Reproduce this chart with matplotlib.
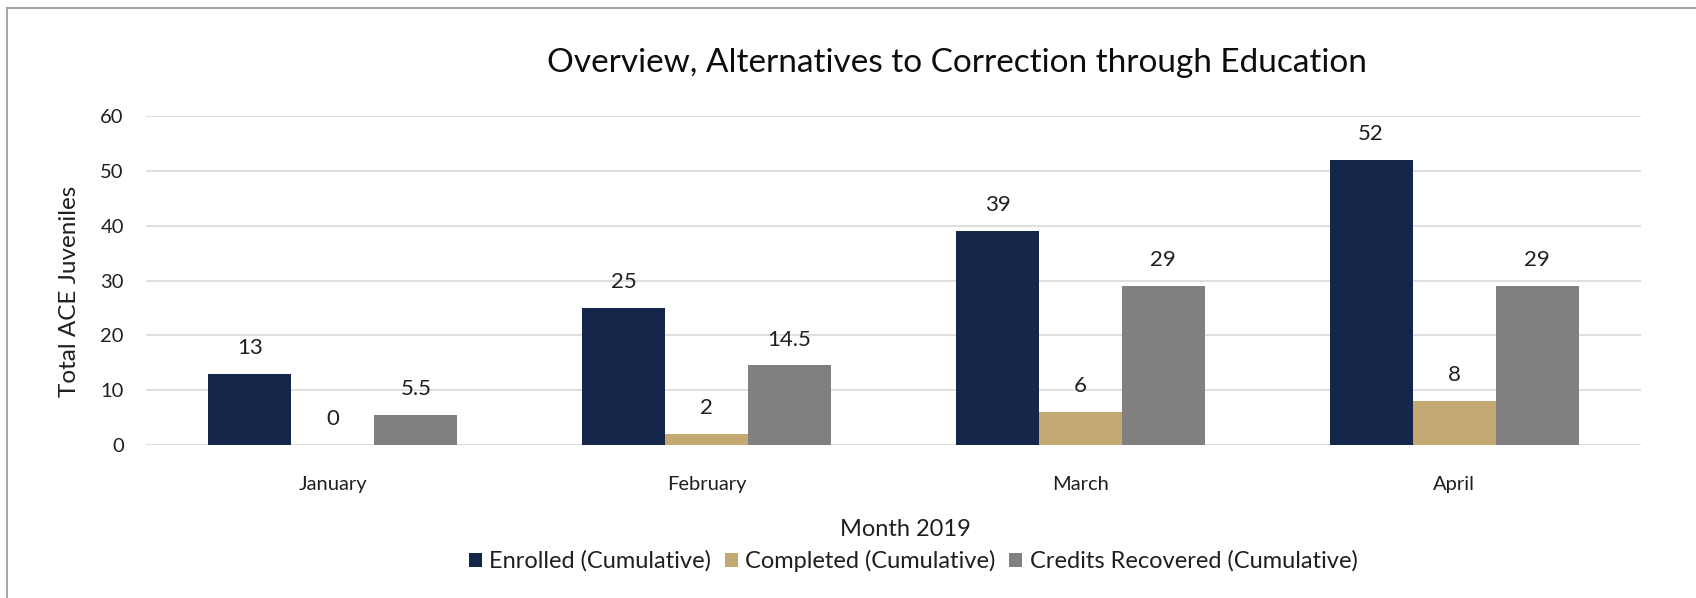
import matplotlib
matplotlib.use('Agg')
import matplotlib.pyplot as plt
import numpy as np
from matplotlib.patches import Rectangle

plt.rcParams['font.family'] = ['Lato', 'DejaVu Sans']

# data
months = ['January', 'February', 'March', 'April']
enrolled = [13, 25, 39, 52]
completed = [0, 2, 6, 8]
credits = [5.5, 14.5, 29, 29]
series_names = ['Enrolled (Cumulative)', 'Completed (Cumulative)',
                'Credits Recovered (Cumulative)']
colors = ['#14264a', '#c5a973', '#808080']

W, H = 1696, 598
fig = plt.figure(figsize=(W/100, H/100), dpi=100)
ax = fig.add_axes([146/W, 1-445/H, (1641-146)/W, (445-116)/H])

x = np.arange(len(months))
bw = 0.222
text_col = '#1f1f1f'
for i, (vals, name, c) in enumerate(zip([enrolled, completed, credits], series_names, colors)):
    xs = x + (i-1)*bw
    ax.bar(xs, vals, bw, color=c, label=name, zorder=3)
    for xi, v in zip(xs, vals):
        lab = '{:g}'.format(v)
        ax.annotate(lab, (xi, v), xytext=(0, 18.5), textcoords='offset points',
                    ha='center', va='center', fontsize=16, color=text_col)

ax.set_xlim(-0.5, 3.5)
ax.set_ylim(0, 60)
ax.set_yticks(range(0, 61, 10))
ax.set_xticks(x)
ax.set_xticklabels(months)
ax.yaxis.grid(True, color='#d9d9d9', lw=1.2, zorder=0)
for s in ax.spines.values():
    s.set_visible(False)
ax.tick_params(axis='both', length=0, labelsize=14.5, labelcolor=text_col)
ax.tick_params(axis='y', pad=16)
ax.tick_params(axis='x', pad=22)

fig.text(957/W, 1-63/H, 'Overview, Alternatives to Correction through Education',
         ha='center', va='center', fontsize=24, color='#0d0d0d')
fig.text(70/W, 1-291/H, 'Total ACE Juveniles', rotation=90,
         ha='center', va='center', fontsize=17.5, color=text_col)
fig.text(905/W, 1-529/H, 'Month 2019', ha='center', va='center',
         fontsize=17, color=text_col)

fig.legend(loc='center', bbox_to_anchor=(913/W, 1-561/H), ncol=3, frameon=False,
           fontsize=17, handlelength=0.55, handleheight=0.55, handletextpad=0.3,
           columnspacing=0.6, labelcolor=text_col)

# outer chart border (only top and left edges fall inside the image)
fig.patches.append(Rectangle((7/W, -0.1), 1.2, 1-8/H+0.1, transform=fig.transFigure,
                             fill=False, ec='#a6a6a6', lw=1.5))

fig.savefig('out.png', dpi=100)
